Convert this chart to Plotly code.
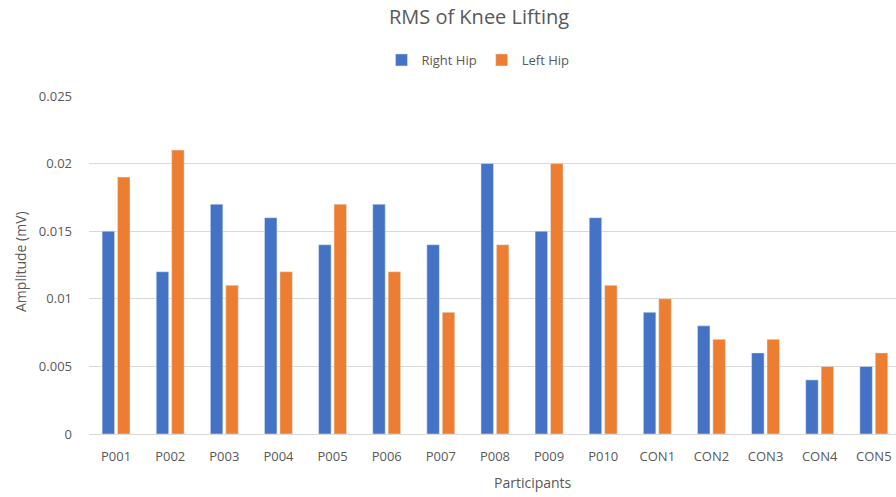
import plotly.graph_objects as go

categories = ["P001", "P002", "P003", "P004", "P005", "P006", "P007", "P008", "P009", "P010",
              "CON1", "CON2", "CON3", "CON4", "CON5"]
right_hip = [0.015, 0.012, 0.017, 0.016, 0.014, 0.017, 0.014, 0.020, 0.015, 0.016,
             0.009, 0.008, 0.006, 0.004, 0.005]
left_hip = [0.019, 0.021, 0.011, 0.012, 0.017, 0.012, 0.009, 0.014, 0.020, 0.011,
            0.010, 0.007, 0.007, 0.005, 0.006]
y_ticks = [0, 0.005, 0.01, 0.015, 0.02, 0.025]
y_tick_text = ["0", "0.005", "0.01", "0.015", "0.02", "0.025"]

FONT = "Open Sans"
GRAY = "#595959"
W, H = 896, 497
L, R, T, B = 89, 0, 96, 63

fig = go.Figure()
fig.add_trace(go.Bar(name="Right Hip", x=categories, y=right_hip, marker_color="#4472C4"))
fig.add_trace(go.Bar(name="Left Hip", x=categories, y=left_hip, marker_color="#ED7D31"))

fig.update_layout(
    width=W, height=H,
    margin=dict(l=L, r=R, t=T, b=B, pad=0),
    paper_bgcolor="white", plot_bgcolor="white",
    barmode="group", bargap=0.43, bargroupgap=0.19,
    font=dict(family=FONT, color=GRAY, size=13),
    title=dict(text="RMS of Knee Lifting", x=479 / W, xref="container", xanchor="center",
               y=1 - 17 / H, yref="container", yanchor="middle",
               font=dict(size=20, color=GRAY, family=FONT)),
    legend=dict(orientation="h", x=(478 - L) / (W - L - R), xanchor="center",
                y=1 + (T - 60) / (H - T - B), yanchor="middle",
                font=dict(size=13, color=GRAY), itemwidth=30, traceorder="normal",
                bgcolor="rgba(0,0,0,0)"),
    showlegend=True,
)

fig.update_xaxes(range=[-0.5, 14.41], showgrid=False, showline=True, linecolor="#d9d9d9",
                 linewidth=1, ticks="", tickfont=dict(size=13, color=GRAY),
                 ticklabelstandoff=10, zeroline=False, fixedrange=True)
fig.update_yaxes(range=[0, 0.025], tickvals=y_ticks, ticktext=y_tick_text,
                 showgrid=True, gridcolor="#d9d9d9", gridwidth=1, zeroline=False,
                 showline=False, ticks="", tickfont=dict(size=13, color=GRAY),
                 ticklabelstandoff=16, fixedrange=True)

fig.add_annotation(text="Amplitude (mV)", textangle=-90, xref="paper", yref="paper",
                   x=(20 - L) / (W - L - R), y=(H - B - 262) / (H - T - B),
                   xanchor="center", yanchor="middle", showarrow=False,
                   font=dict(size=14, color=GRAY, family=FONT))
fig.add_annotation(text="Participants", xref="paper", yref="paper",
                   x=(533 - L) / (W - L - R), y=-(482 - (H - B)) / (H - T - B),
                   xanchor="center", yanchor="middle", showarrow=False,
                   font=dict(size=14, color=GRAY, family=FONT))

fig.write_html("out.html", config={"displayModeBar": False},
               post_script="document.body.style.margin='0';document.body.style.overflow='hidden';")
